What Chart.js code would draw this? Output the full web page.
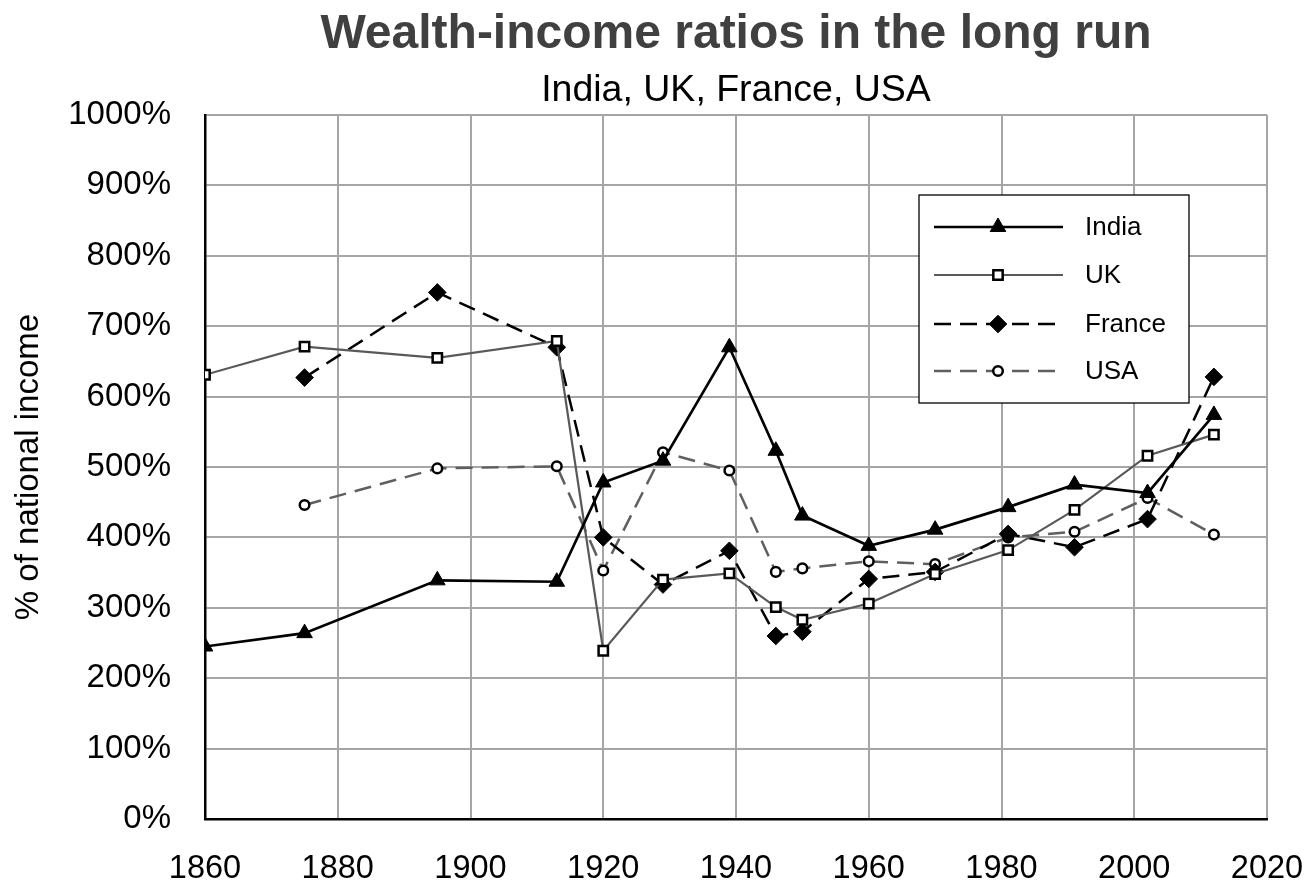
<!DOCTYPE html>
<html>
<head>
<meta charset="utf-8">
<script src="https://cdn.jsdelivr.net/npm/chart.js@4/dist/chart.umd.min.js"></script>
<style>
html,body{margin:0;padding:0;background:#fff;}
#wrap{position:relative;width:1309px;height:884px;}
</style>
</head>
<body>
<div id="wrap"><canvas id="c" width="1309" height="884"></canvas></div>
<script>
const titleText = 'Wealth-income ratios in the long run';
const subtitleText = 'India, UK, France, USA';
const yAxisTitle = '% of national income';
const xTicks = [1860, 1880, 1900, 1920, 1940, 1960, 1980, 2000, 2020];
const yTicks = [0, 100, 200, 300, 400, 500, 600, 700, 800, 900, 1000];

const indiaYears = [1860, 1875, 1895, 1913, 1920, 1929, 1939, 1946, 1950, 1960, 1970, 1981, 1991, 2002, 2012];
const indiaValues = [245, 264, 339, 337, 478, 509, 670, 523, 431, 388, 411, 443, 475, 463, 574];

const ukYears = [1860, 1875, 1895, 1913, 1920, 1929, 1939, 1946, 1950, 1960, 1970, 1981, 1991, 2002, 2012];
const ukValues = [631, 671, 655, 679, 239, 340, 349, 301, 283, 306, 348, 382, 439, 516, 546];

const franceYears = [1875, 1895, 1913, 1920, 1929, 1939, 1946, 1950, 1960, 1970, 1981, 1991, 2002, 2012];
const franceValues = [627, 748, 670, 400, 333, 381, 260, 266, 341, 351, 405, 386, 426, 628];

const usaYears = [1875, 1895, 1913, 1920, 1929, 1939, 1946, 1950, 1960, 1970, 1981, 1991, 2002, 2012];
const usaValues = [446, 498, 501, 353, 521, 495, 351, 356, 366, 362, 400, 408, 456, 404];

const seriesNames = ['India', 'UK', 'France', 'USA'];

const FONT = '"Liberation Sans", Arial, sans-serif';

function pts(xs, ys) { return xs.map((x, i) => ({x: x, y: ys[i]})); }

const styles = [
  {borderColor:'#000', borderWidth:2.7, borderDash:[], pointStyle:'triangle', pointRadius:9, pointBackgroundColor:'#000', pointBorderColor:'#000', pointBorderWidth:1},
  {borderColor:'#595959', borderWidth:2.2, borderDash:[], pointStyle:'rect', pointRadius:6.6, pointBackgroundColor:'#fff', pointBorderColor:'#000', pointBorderWidth:2.5},
  {borderColor:'#000', borderWidth:2.5, borderDash:[17,9], pointStyle:'rectRot', pointRadius:8.8, pointBackgroundColor:'#000', pointBorderColor:'#000', pointBorderWidth:1},
  {borderColor:'#5f5f5f', borderWidth:2.5, borderDash:[17,9], pointStyle:'circle', pointRadius:4.8, pointBackgroundColor:'#fff', pointBorderColor:'#000', pointBorderWidth:2.5}
];

const dataSets = [pts(indiaYears, indiaValues), pts(ukYears, ukValues), pts(franceYears, franceValues), pts(usaYears, usaValues)];

const datasets = dataSets.map((d, i) => Object.assign({
  label: seriesNames[i],
  data: d,
  tension: 0,
  fill: false,
  pointHoverRadius: styles[i].pointRadius
}, styles[i]));

const legendPlugin = {
  id: 'boxLegend',
  afterDraw(chart) {
    const ctx = chart.ctx;
    const bx = 919, by = 195, bw = 270, bh = 208;
    ctx.save();
    ctx.fillStyle = '#fff';
    ctx.fillRect(bx, by, bw, bh);
    ctx.strokeStyle = '#000';
    ctx.lineWidth = 1.3;
    ctx.strokeRect(bx, by, bw, bh);
    const rows = [227, 275, 324, 371];
    rows.forEach((ry, i) => {
      const s = styles[i];
      ctx.save();
      ctx.strokeStyle = s.borderColor;
      ctx.lineWidth = s.borderWidth;
      ctx.setLineDash(s.borderDash);
      ctx.beginPath();
      ctx.moveTo(934, ry);
      ctx.lineTo(1063, ry);
      ctx.stroke();
      ctx.restore();
      ctx.save();
      ctx.fillStyle = s.pointBackgroundColor;
      ctx.strokeStyle = s.pointBorderColor;
      ctx.lineWidth = s.pointBorderWidth;
      Chart.helpers.drawPoint(ctx, {pointStyle: s.pointStyle, radius: s.pointRadius, rotation: 0, borderWidth: s.pointBorderWidth}, 998, ry);
      ctx.restore();
      ctx.fillStyle = '#000';
      ctx.font = '26px ' + FONT;
      ctx.textBaseline = 'middle';
      ctx.textAlign = 'left';
      ctx.fillText(seriesNames[i], 1085, ry + 1);
    });
    ctx.restore();
  }
};

new Chart(document.getElementById('c'), {
  type: 'line',
  data: { datasets: datasets },
  plugins: [legendPlugin],
  options: {
    responsive: false,
    animation: false,
    layout: { padding: { left: 0, right: 42, top: 0, bottom: 0 } },
    plugins: {
      legend: { display: false },
      tooltip: { enabled: false },
      title: {
        display: true, text: titleText, fullSize: false,
        color: '#404040',
        font: { family: FONT, size: 48, weight: 'bold' },
        padding: { top: 5.6, bottom: 0 }
      },
      subtitle: {
        display: true, text: subtitleText, fullSize: false,
        color: '#000',
        font: { family: FONT, size: 37.5 },
        padding: { top: 4.5, bottom: 2.3 }
      }
    },
    scales: {
      x: {
        type: 'linear', min: xTicks[0], max: xTicks[xTicks.length - 1],
        afterBuildTicks(scale) { scale.ticks = xTicks.map(v => ({value: v})); },
        afterFit(scale) { scale.height = 65; scale.paddingLeft = 0; scale.paddingRight = 0; },
        ticks: {
          color: '#000', padding: 31, maxRotation: 0,
          font: { family: FONT, size: 32.5 },
          callback: v => String(v)
        },
        grid: { color: '#a6a6a6', lineWidth: 2, drawTicks: false, tickLength: 0 },
        border: { color: '#000', width: 2.5 }
      },
      y: {
        min: yTicks[0], max: yTicks[yTicks.length - 1],
        afterBuildTicks(scale) { scale.ticks = yTicks.map(v => ({value: v})); },
        afterFit(scale) { scale.width = 205; scale.paddingTop = 0; scale.paddingBottom = 0; },
        ticks: {
          color: '#000', padding: 34,
          font: { family: FONT, size: 33 },
          callback: v => v + '%'
        },
        title: {
          display: true, text: yAxisTitle, color: '#000',
          font: { family: FONT, size: 33 },
          padding: { top: 9, bottom: 0 }
        },
        grid: { color: '#a6a6a6', lineWidth: 2, drawTicks: false, tickLength: 0 },
        border: { color: '#000', width: 2.5 }
      }
    }
  }
});
</script>
</body>
</html>
